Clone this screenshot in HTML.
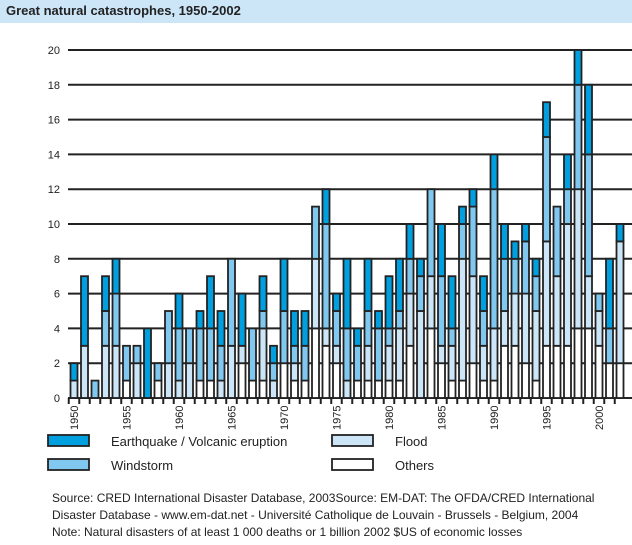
<!DOCTYPE html>
<html><head><meta charset="utf-8"><style>
body{margin:0;background:#fff;font-family:"Liberation Sans",Arial,sans-serif;}
#wrap{position:relative;width:632px;height:545px;overflow:hidden;}
#hdr{position:absolute;left:0;top:0;width:632px;height:23px;background:#cce6f8;}
#hdr span{position:absolute;left:6px;top:3px;font-size:13px;font-weight:bold;color:#222;}
.src{position:absolute;left:52px;font-size:12px;color:#222;white-space:nowrap;}
</style></head><body>
<div id="wrap">
<div id="hdr"><span>Great natural catastrophes, 1950-2002</span></div>
<svg id="chart" width="632" height="545" style="position:absolute;left:0;top:0"></svg>
<div class="src" style="top:491px">Source: CRED International Disaster Database, 2003Source: EM-DAT: The OFDA/CRED International</div>
<div class="src" style="top:508px">Disaster Database - www.em-dat.net - Université Catholique de Louvain - Brussels - Belgium, 2004</div>
<div class="src" style="top:525px">Note: Natural disasters of at least 1 000 deaths or 1 billion 2002 $US of economic losses</div>
</div>
<script>
const years=[];for(let y=1950;y<=2002;y++)years.push(y);
const others=[0,0,0,0,0,1,0,0,1,0,0,0,1,1,0,0,2,1,1,0,2,1,1,4,3,2,0,1,1,1,1,1,3,0,4,2,1,1,2,1,1,3,3,2,1,3,3,3,4,4,3,2,2];
const flood=[1,3,0,3,3,0,2,0,0,2,1,2,0,0,1,3,1,0,3,1,0,1,0,4,1,1,1,0,2,0,2,3,3,5,3,1,2,7,5,2,3,2,3,4,4,6,4,7,8,3,2,0,7];
const wind=[0,0,1,2,3,2,1,0,1,3,3,2,3,3,2,5,0,3,1,1,3,1,2,3,6,2,3,2,2,3,1,1,2,2,5,4,1,2,4,2,8,3,2,3,2,6,4,2,6,7,1,2,0];
const quake=[1,4,0,2,2,0,0,4,0,0,2,0,1,3,2,0,3,0,2,1,3,2,2,0,2,1,4,1,3,1,3,3,2,1,0,3,3,1,1,2,2,2,1,1,1,2,0,2,2,4,0,4,1];
const yTicks=[0,2,4,6,8,10,12,14,16,18,20];
const series=[{n:'others',d:others,c:'#ffffff'},{n:'flood',d:flood,c:'#cce6f8'},{n:'windstorm',d:wind,c:'#80c8f0'},{n:'earthquake',d:quake,c:'#00a0e0'}];
const svg=document.getElementById('chart');const NS='http://www.w3.org/2000/svg';
function yS(v){return 398-v*17.4;}
function xS(i){return 74+i*10.5;}
function mk(t,a){const e=document.createElementNS(NS,t);for(const k in a)e.setAttribute(k,a[k]);svg.appendChild(e);return e;}
yTicks.forEach(v=>{
 const l=mk('line',{x1:68,x2:632,y1:yS(v),y2:yS(v),stroke:'#222','stroke-width':2});
 
 
 const t=mk('text',{x:60,y:yS(v)+4,'text-anchor':'end','font-size':11,fill:'#222','font-family':'Liberation Sans, sans-serif'});
 t.textContent=v;
 
 
});
years.forEach((yr,i)=>{
 let base=0;
 series.forEach(s=>{
  const v=s.d[i];if(v>0){
   const r=mk('rect',{x:xS(i)-3.5,y:yS(base+v),width:7,height:v*17.4,fill:s.c,stroke:'#222','stroke-width':1.8});
   
   
  }
  base+=v;
 });
 const tk=mk('line',{x1:xS(i)-5.25,x2:xS(i)-5.25,y1:398,y2:404,stroke:'#222','stroke-width':2});
 
 
 if(yr%5===0){
  const t=mk('text',{x:0,y:0,transform:'translate('+(xS(i)+4)+',430) rotate(-90)','font-size':11,fill:'#222','font-family':'Liberation Sans, sans-serif'});
  t.textContent=yr;
  
  
 }
});
const legend=[['Earthquake / Volcanic eruption','#00a0e0',48,435],['Windstorm','#80c8f0',48,459],['Flood','#cce6f8',332,435],['Others','#ffffff',332,459]];
legend.forEach(L=>{
 const r=mk('rect',{x:L[2],y:L[3],width:41,height:11,fill:L[1],stroke:'#222','stroke-width':1.8});
 
 
 const t=mk('text',{x:L[2]+63,y:L[3]+11,'font-size':13,fill:'#222','font-family':'Liberation Sans, sans-serif'});
 t.textContent=L[0];
 
 
});
</script>
</body></html>
